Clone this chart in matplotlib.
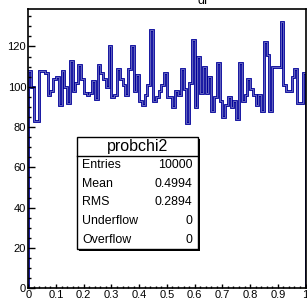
import matplotlib
matplotlib.use('Agg')
import matplotlib.pyplot as plt
import numpy as np
from matplotlib.patches import Rectangle
from matplotlib.ticker import MultipleLocator, FuncFormatter

plt.rcParams['font.family'] = ['Liberation Sans', 'DejaVu Sans']

# contenu des bins (100 bins entre 0 et 1)
counts = [108, 100, 83, 83, 108, 108, 107, 96, 98, 104,
          105, 91, 108, 100, 92, 113, 98, 102, 111, 104,
          97, 96, 97, 103, 94, 111, 107, 104, 100, 120,
          95, 96, 109, 104, 101, 96, 109, 120, 98, 106,
          93, 91, 96, 101, 128, 93, 95, 98, 101, 107,
          95, 95, 90, 98, 96, 109, 99, 82, 102, 123,
          90, 115, 97, 110, 97, 105, 88, 95, 112, 93,
          85, 91, 95, 90, 93, 84, 112, 93, 96, 104,
          99, 96, 91, 96, 88, 122, 116, 88, 110, 110,
          110, 132, 101, 98, 98, 105, 109, 92, 92, 107]
x_min, x_max = 0.0, 1.0
n_bins = len(counts)

stat_names = ['Entries', 'Mean', 'RMS', 'Underflow', 'Overflow']
stat_values = ['10000', '0.4994', '0.2894', '0', '0']
hist_name = 'probchi2'
title = 'dF'

W, H = 307, 299
fig = plt.figure(figsize=(W / 100, H / 100), dpi=100)

def fx(px):
    return px / W

def fy(py):
    return 1 - py / H

ax = fig.add_axes([fx(28.3), fy(288.3), fx(305.5) - fx(28.3), fy(9) - fy(288.3)])

edges = np.linspace(x_min, x_max, n_bins + 1)
ax.stairs(counts, edges, color='#000099', linewidth=2.0)
ax.stairs(counts, edges, color='#8c8ccc', linewidth=0.5)

ax.set_xlim(x_min, x_max)
ax.set_ylim(0, max(counts) * 1.05)

ax.xaxis.set_major_locator(MultipleLocator(0.1))
ax.xaxis.set_minor_locator(MultipleLocator(0.02))
ax.yaxis.set_major_locator(MultipleLocator(20))
ax.yaxis.set_minor_locator(MultipleLocator(5))
ax.xaxis.set_major_formatter(FuncFormatter(lambda v, p: f'{v:g}'))
ax.tick_params(which='both', direction='in', top=False, right=False, labelsize=8, pad=1.5)
ax.tick_params(axis='x', which='major', length=3.2, width=1.0)
ax.tick_params(axis='x', which='minor', length=1.6, width=1.0)
ax.tick_params(axis='y', which='major', length=5, width=1.0)
ax.tick_params(axis='y', which='minor', length=2.5, width=1.0)
for sp in ax.spines.values():
    sp.set_linewidth(1.2)

fig.text(fx(205), fy(3.5), title, ha='center', va='baseline', fontsize=9)

# boite de statistiques
bx0, bx1, by0, by1 = 76.7, 198.3, 136.7, 249
sep = 155.7
fig.patches.append(Rectangle((fx(bx0 + 2), fy(by1 + 2)), fx(bx1) - fx(bx0), fy(by0) - fy(by1),
                             transform=fig.transFigure, facecolor='black', edgecolor='none', zorder=5))
fig.patches.append(Rectangle((fx(bx0), fy(by1)), fx(bx1) - fx(bx0), fy(by0) - fy(by1),
                             transform=fig.transFigure, facecolor='white', edgecolor='black',
                             linewidth=1.0, zorder=6))
fig.lines.append(plt.Line2D([fx(bx0), fx(bx1)], [fy(sep), fy(sep)], transform=fig.transFigure,
                            color='black', linewidth=1.0, zorder=7))
fig.text(fx((bx0 + bx1) / 2), fy((by0 + sep) / 2), hist_name, ha='center', va='center',
         fontsize=11.5, zorder=8)
row_h = (by1 - sep) / len(stat_names)
for i in range(len(stat_names)):
    yc = sep + row_h * (i + 0.5)
    fig.text(fx(82), fy(yc), stat_names[i], ha='left', va='center', fontsize=8.9, zorder=8)
    fig.text(fx(192.5), fy(yc), stat_values[i], ha='right', va='center', fontsize=8.9, zorder=8)

fig.savefig('out.png', dpi=100)
